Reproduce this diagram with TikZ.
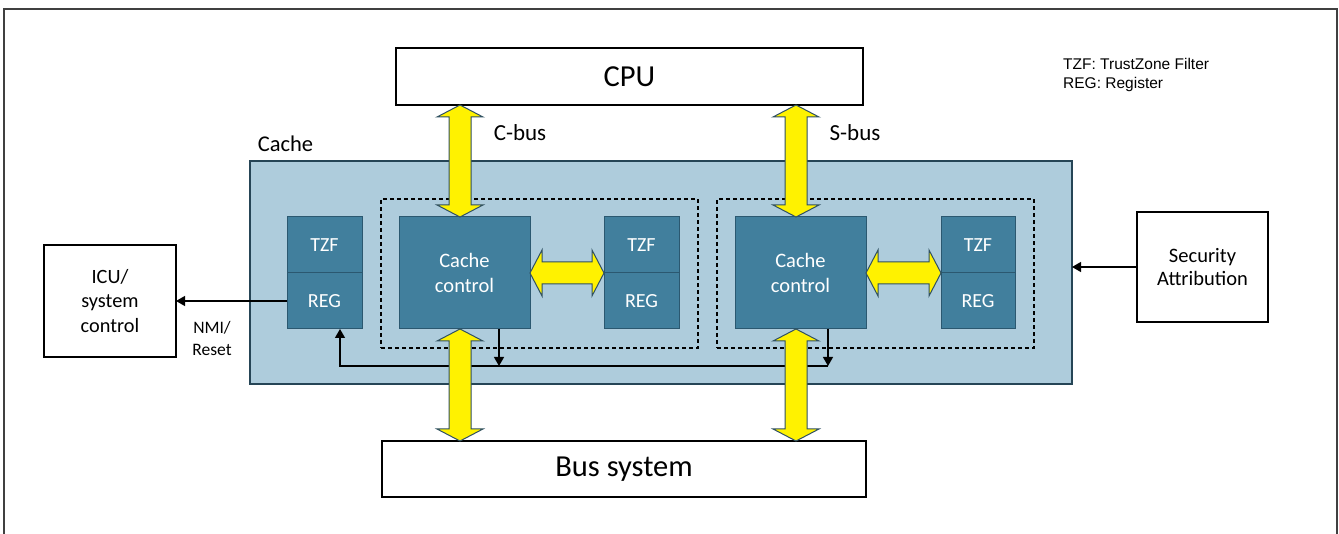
\documentclass[tikz,border=0pt]{standalone}
\usepackage{fontspec}
\setmainfont{Carlito}
\newfontfamily\arialf{Liberation Sans}
\usetikzlibrary{arrows.meta,calc}
\definecolor{cfill}{HTML}{AECCDC}
\definecolor{cdark}{HTML}{264556}
\definecolor{tealf}{HTML}{417F9D}
\definecolor{teald}{HTML}{2B5870}
\definecolor{fatline}{HTML}{2F5063}
\definecolor{framec}{HTML}{404040}
\tikzset{
  blk/.style={draw=black, line width=2.5pt, fill=white, outer sep=0pt, inner sep=0pt},
  cachebox/.style={draw=cdark, line width=2pt, fill=cfill, outer sep=0pt},
  inner/.style={draw=teald, line width=1pt, fill=tealf, text=white, outer sep=0pt, inner sep=0pt, align=center},
  dashbox/.style={draw=black, dashed, line width=1.1pt, dash pattern=on 4pt off 3pt, outer sep=0pt},
  fat/.style={fill=yellow, draw=fatline, line width=1pt, line join=miter},
  sig/.style={line width=1.3pt, -{Triangle[length=9pt,width=10pt]}},
  plain/.style={line width=1.3pt},
  lbl/.style={inner sep=0pt, align=center},
}
\newcommand\fatV[2]{\draw[fat] let \p1=(#1), \p2=(#2) in
  (\x1,\y1) -- ++(23pt,-12pt) -- ++(-12pt,0pt) -- (\x1+11pt,\y2+12pt) -- ++(12pt,0pt) -- (\x1,\y2)
  -- ++(-23pt,12pt) -- ++(12pt,0pt) -- (\x1-11pt,\y1-12pt) -- ++(-12pt,0pt) -- cycle;}
\newcommand\fatH[2]{\draw[fat] let \p1=(#1), \p2=(#2) in
  (\x1,\y1) -- ++(12pt,23pt) -- ++(0pt,-12pt) -- (\x2-12pt,\y1+11pt) -- ++(0pt,12pt) -- (\x2,\y1)
  -- ++(-12pt,-23pt) -- ++(0pt,12pt) -- (\x1+12pt,\y1-11pt) -- ++(0pt,-12pt) -- cycle;}
\begin{document}
\begin{tikzpicture}[x=1pt,y=-1pt]
\useasboundingbox (0,0) rectangle (1339,534);
\fill[white] (0,0) rectangle (1339,534);
% outer frame
\draw[framec, line width=1.5pt] (4,540) -- (4,9) -- (1337,9) -- (1337,540);

% main boxes
\node[blk, minimum width=467pt, minimum height=57pt, font=\fontsize{30.5}{36}\selectfont] (cpu) at (629.5,76.5) {CPU};
\node[blk, minimum width=484pt, minimum height=56pt, font=\fontsize{30.5}{36}\selectfont] (bus) at (624,469) {Bus system};

\node[cachebox, minimum width=822pt, minimum height=223pt] (cache) at (661,272.5) {};
\node[lbl, font=\fontsize{22.5}{26}\selectfont] (cachelbl) at (285.5,144) {Cache};

\node[dashbox, minimum width=317pt, minimum height=149pt] (dash1) at (539.5,273.5) {};
\node[dashbox, minimum width=317pt, minimum height=149pt] (dash2) at (875.5,273.5) {};

\node[inner, minimum width=131pt, minimum height=112pt, font=\fontsize{20.5}{25}\selectfont] (cc1) at (464.5,273) {Cache\\control};
\node[inner, minimum width=131pt, minimum height=112pt, font=\fontsize{20.5}{25}\selectfont] (cc2) at (800.5,273) {Cache\\control};

\node[inner, minimum width=75pt, minimum height=56pt, font=\fontsize{20}{24}\selectfont] (tzf0) at (324.5,245) {TZF};
\node[inner, minimum width=75pt, minimum height=56pt, font=\fontsize{20}{24}\selectfont] (reg0) at (324.5,301) {REG};
\node[inner, minimum width=75pt, minimum height=56pt, font=\fontsize{20}{24}\selectfont] (tzf1) at (641.5,245) {TZF};
\node[inner, minimum width=75pt, minimum height=56pt, font=\fontsize{20}{24}\selectfont] (reg1) at (641.5,301) {REG};
\node[inner, minimum width=74pt, minimum height=56pt, font=\fontsize{20}{24}\selectfont] (tzf2) at (978,245) {TZF};
\node[inner, minimum width=74pt, minimum height=56pt, font=\fontsize{20}{24}\selectfont] (reg2) at (978,301) {REG};

\node[blk, minimum width=132pt, minimum height=112pt, align=center, font=\fontsize{20.3}{24.5}\selectfont] (icu) at (110,301) {ICU/\\system\\control};
\node[blk, minimum width=131pt, minimum height=110pt, align=center, font=\fontsize{20.5}{23}\selectfont] (sec) at (1202.5,267) {Security\\Attribution};

% labels
\node[lbl, font=\fontsize{23}{27}\selectfont] (cbus) at (520,133) {C-bus};
\node[lbl, font=\fontsize{23}{27}\selectfont] (sbus) at (855,133) {S-bus};
\node[lbl, font=\fontsize{17.5}{22}\selectfont] (nmi) at (212,338) {NMI/\\Reset};
\node[lbl, anchor=west, align=left, font=\arialf\fontsize{15.5}{19}\selectfont] (legend) at (1063,74.5) {TZF: TrustZone Filter\\REG: Register};

% thin signal lines
\coordinate (d1) at (499,366);
\coordinate (d2) at (828,366);
\coordinate (bl) at (340,366);
\draw[sig] (reg0.west) -- (icu.east |- reg0.west);
\draw[sig] (sec.west) -- (cache.east |- sec.west);
\draw[sig] (d2) -- (bl) -- (bl |- reg0.south);
\draw[sig] (d1 |- cc1.south) -- (d1);
\draw[sig] (d2 |- cc2.south) -- (d2);

% fat arrows
\coordinate (cx) at (460,0);
\coordinate (sx) at (796,0);
\fatV{cx |- cpu.south}{cx |- cc1.north}
\fatV{cx |- cc1.south}{cx |- bus.north}
\fatV{sx |- cpu.south}{sx |- cc2.north}
\fatV{sx |- cc2.south}{sx |- bus.north}
\fatH{cc1.east}{cc1.east -| tzf1.west}
\fatH{cc2.east}{cc2.east -| tzf2.west}
\end{tikzpicture}
\end{document}
